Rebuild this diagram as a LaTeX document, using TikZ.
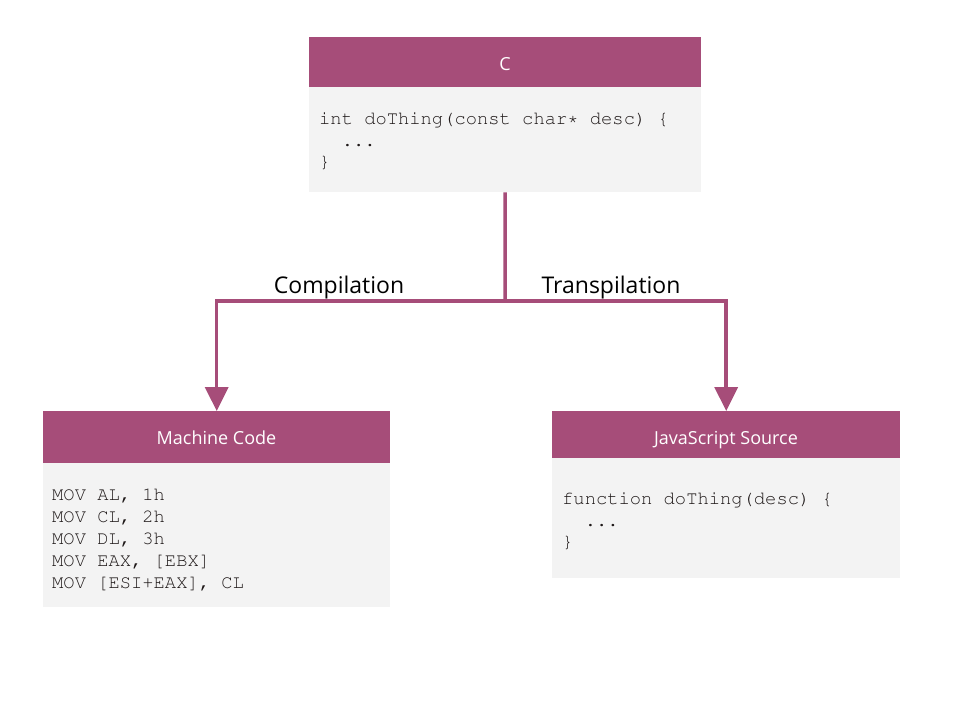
\documentclass[tikz,border=0pt]{standalone}
\usepackage[T1]{fontenc}
\usepackage{fontspec}
\setmainfont{Open Sans}
\newcommand\mycodefont{\fontencoding{T1}\fontfamily{pcr}\fontseries{m}\fontshape{n}\selectfont}
\usetikzlibrary{arrows.meta}
\definecolor{hdrcol}{HTML}{A64D79}
\definecolor{bodycol}{HTML}{F3F3F3}
\definecolor{codecol}{HTML}{1E1818}
\tikzset{
  hdr/.style={fill=hdrcol, draw=none, anchor=north west, inner sep=0pt},
  bodybox/.style={fill=bodycol, draw=none, anchor=north west, inner sep=0pt},
  hdrtext/.style={text=white, font=\fontsize{18}{21}\selectfont, inner sep=0pt, anchor=base},
  codeline/.style={text=codecol, font=\mycodefont\fontsize{18.8}{22}\selectfont, anchor=base west, inner sep=0pt},
  lbl/.style={text=black, font=\fontsize{23}{27}\selectfont, anchor=base, inner sep=0pt},
  conn/.style={draw=hdrcol, line width=3.5pt},
  arr/.style={conn, -{Triangle[width=23pt,length=24pt]}}
}
\begin{document}
\begin{tikzpicture}[x=1pt,y=-1pt]
\useasboundingbox[fill=white] (0,0) rectangle (960,720);
% C box
\node[hdr, minimum width=392pt, minimum height=50pt] (cH) at (309,37) {};
\node[bodybox, minimum width=392pt, minimum height=105pt] (cB) at (309,87) {};
\node[hdrtext] (cT) at (505,70) {C};
\node[codeline] (c1) at (319,124.5) {int doThing(const char* desc) \{};
\node[codeline] (c2) at (319,146) {\ \ ...};
\node[codeline] (c3) at (319,167) {\}};
% Machine code box
\node[hdr, minimum width=347pt, minimum height=52pt] (mH) at (43,411) {};
\node[bodybox, minimum width=347pt, minimum height=144pt] (mB) at (43,463) {};
\node[hdrtext] (mT) at (216.5,444) {Machine Code};
\node[codeline] (m1) at (52,500) {MOV AL, 1h};
\node[codeline] (m2) at (52,522) {MOV CL, 2h};
\node[codeline] (m3) at (52,544) {MOV DL, 3h};
\node[codeline] (m4) at (52,566) {MOV EAX, [EBX]};
\node[codeline] (m5) at (52,588) {MOV [ESI+EAX], CL};
% JavaScript box
\node[hdr, minimum width=348pt, minimum height=47pt] (jH) at (552,411) {};
\node[bodybox, minimum width=348pt, minimum height=120pt] (jB) at (552,458) {};
\node[hdrtext] (jT) at (726,444) {JavaScript Source};
\node[codeline] (j1) at (562,504.5) {function doThing(desc) \{};
\node[codeline] (j2) at (562,526) {\ \ ...};
\node[codeline] (j3) at (562,547.5) {\}};
% connectors
\coordinate (junc) at (505,301);
\draw[conn] (cB.south) -- (junc);
\draw[arr] (junc) -| (mH.north);
\draw[arr] (junc) -| (jH.north);
% labels
\node[lbl] (lc) at (339,293) {Compilation};
\node[lbl] (lt) at (611,293) {Transpilation};
\end{tikzpicture}
\end{document}
